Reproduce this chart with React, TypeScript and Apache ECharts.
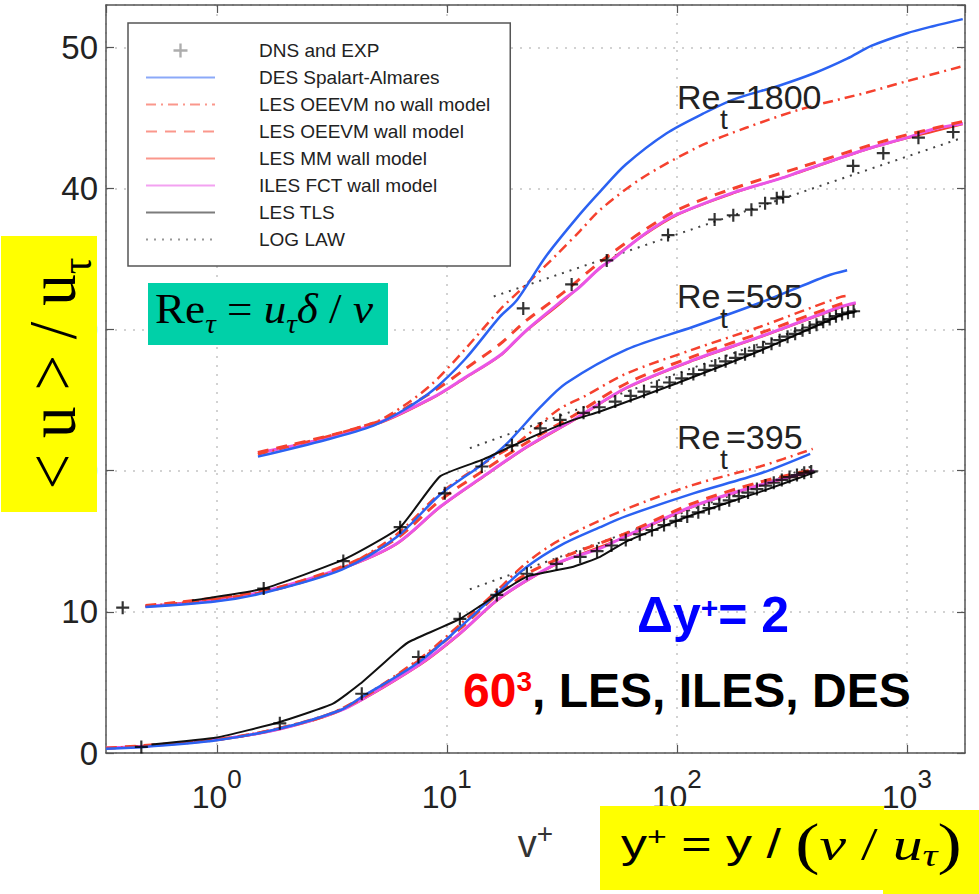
import React, { useEffect, useRef } from 'react';
import * as echarts from 'echarts';

const FONT = '"Liberation Sans", Arial, Helvetica, sans-serif';
const SERIF = '"Liberation Serif", "Times New Roman", Times, serif';

// ---- legend names ----
const NAMES = [
  'DNS and EXP',
  'DES Spalart-Almares',
  'LES OEEVM no wall model',
  'LES OEEVM wall model',
  'LES MM wall model',
  'ILES FCT wall model',
  'LES TLS',
  'LOG LAW',
];

// ---- x-axis extent (y+) and y-axis extent (<u>/u_tau) ----
const X_MIN = 0.33;
const X_MAX = 1790;
const Y_MIN = 0;
const Y_MAX = 53;
const Y_STEP = 10;

// ---- Re_tau = 1800 (shifted +20) ----
const dns1800 = [[21.5, 31.5], [34.9, 33.2], [49.6, 34.9], [91.6, 36.7], [146, 37.8], [176, 38.1], [211, 38.5], [242, 38.95], [272, 39.3], [290, 39.4], [584, 41.6], [790, 42.5], [1123, 43.6], [1590, 44.0]];
const des1800 = [[1.51, 21.0], [3, 22.2], [4.8, 23.2], [6.5, 24.3], [8.7, 25.7], [12, 27.9], [17, 30.9], [20.2, 32.1], [27, 35.2], [38, 38.2], [46.5, 39.8], [60, 41.7], [90, 43.9], [130, 45.3], [176, 46.3], [280, 47.3], [400, 48.2], [550, 49.2], [700, 50.1], [1000, 51.0], [1300, 51.5], [1750, 52.0]];
const noWall1800 = [[1.51, 21.15], [4.8, 23.4], [6.5, 24.6], [8.7, 26.2], [12, 28.6], [17, 31.4], [21.5, 33.0], [30, 35.3], [38, 37.0], [46.5, 38.5], [70, 40.7], [126, 43.0], [200, 44.3], [344, 45.6], [670, 46.8], [1000, 47.6], [1737, 48.65]];
const wall1800 = [[1.51, 21.3], [4.96, 23.45], [8.7, 25.6], [12, 27.2], [17.1, 29.0], [22, 30.6], [32, 32.6], [46.5, 34.8], [70, 36.9], [103, 38.55], [176, 40.0], [344, 41.5], [670, 43.0], [1000, 43.8], [1750, 44.75]];
const mm1800 = [[1.51, 21.2], [4.96, 23.3], [8.7, 25.15], [12, 26.55], [17.1, 28.15], [22, 29.85], [32, 32.0], [46.5, 34.35], [70, 36.55], [103, 38.2], [176, 39.65], [344, 41.15], [670, 42.75], [1000, 43.55], [1750, 44.55]];
const iles1800 = [[1.51, 21.25], [3, 22.3], [4.96, 23.35], [8.7, 25.2], [12, 26.6], [17.1, 28.2], [22, 29.9], [32, 32.1], [38, 33.05], [46.5, 34.4], [52.8, 35.0], [70, 36.6], [90.5, 37.8], [103, 38.25], [176, 39.7], [281, 40.7], [344, 41.2], [670, 42.8], [1000, 43.6], [1300, 44.2], [1750, 44.6]];
const logLaw1800 = [[16, 32.35], [1750, 43.6]];

// ---- Re_tau = 595 (shifted +10) ----
const dns595 = [[0.39, 10.3], [1.6, 11.65], [3.55, 13.6], [6.27, 16.0], [9.8, 18.4], [14.2, 20.3], [19.2, 21.8], [25.5, 23.0], [31.1, 23.6], [39.3, 24.1], [46, 24.5], [54, 24.9], [63, 25.3], [72, 25.6], [82, 25.95], [93, 26.25], [105, 26.55], [118, 26.85], [132, 27.15], [147, 27.45], [163, 27.75], [180, 28.0], [198, 28.25], [217, 28.5], [237, 28.75], [258, 29.0], [280, 29.25], [303, 29.5], [327, 29.7], [352, 29.95], [378, 30.15], [405, 30.35], [433, 30.55], [462, 30.75], [492, 30.95], [523, 31.1], [555, 31.2], [587, 31.3]];
const des595 = [[0.49, 10.35], [1, 10.75], [1.6, 11.35], [3.5, 13.0], [6.06, 15.3], [9.35, 18.3], [14.4, 20.5], [18.2, 21.9], [25.5, 24.5], [33, 26.2], [60.6, 28.6], [118, 30.2], [230, 31.9], [449, 33.8], [550, 34.2]];
const noWall595 = [[0.49, 10.4], [1.6, 11.4], [3.5, 13.1], [6.06, 15.5], [9.35, 18.4], [14.4, 20.5], [20, 21.9], [25.5, 23.3], [31, 24.4], [40, 25.3], [60.6, 26.9], [118, 28.6], [230, 30.2], [512, 32.3], [560, 32.4]];
const wall595 = [[0.49, 10.45], [1.6, 11.5], [3.5, 13.2], [6.06, 15.2], [9.35, 17.9], [14.4, 20.0], [22.3, 22.0], [35.5, 23.9], [60.6, 26.2], [118, 28.1], [230, 29.75], [512, 31.8], [560, 31.95]];
const mm595 = [[0.49, 10.38], [1.6, 11.4], [3.5, 13.05], [6.06, 14.8], [9.35, 17.4], [14.4, 19.55], [22.3, 21.65], [35.5, 23.55], [60.6, 25.85], [118, 27.8], [230, 29.45], [512, 31.55], [600, 31.85]];
const iles595 = [[0.49, 10.4], [1, 10.8], [1.6, 11.45], [3.5, 13.1], [6.06, 14.85], [9.35, 17.45], [14.4, 19.6], [22.3, 21.7], [35.5, 23.6], [60.6, 25.9], [118, 27.85], [230, 29.5], [512, 31.6], [600, 31.9]];
const tls595 = [[0.78, 10.8], [1.6, 11.65], [3.55, 13.7], [6.27, 16.0], [9.35, 19.6], [14.4, 20.8], [19.5, 21.8], [25.5, 22.65], [35.5, 23.6], [46.4, 24.2], [100, 26.2], [230, 28.5], [512, 31.0], [605, 31.3]];
const logLaw595 = [[12.6, 21.6], [600, 31.45]];

// ---- Re_tau = 395 (no shift) ----
const dns395 = [[0.47, 0.43], [1.88, 2.1], [4.27, 4.2], [7.53, 6.8], [11.4, 9.5], [16.5, 11.2], [22.3, 12.7], [30, 13.4], [38, 13.9], [45, 14.3], [52, 14.7], [60, 15.1], [69, 15.5], [78, 15.8], [88, 16.15], [99, 16.45], [111, 16.75], [124, 17.05], [138, 17.35], [153, 17.65], [169, 17.9], [186, 18.2], [204, 18.45], [223, 18.7], [243, 18.95], [264, 19.15], [286, 19.35], [309, 19.55], [333, 19.7], [358, 19.85], [384, 19.95]];
const des395 = [[0.33, 0.3], [0.5, 0.45], [1, 0.9], [1.88, 1.73], [3.44, 3.03], [4.2, 3.9], [7.5, 6.4], [11.4, 8.9], [16.5, 11.3], [22.3, 13.2], [31.1, 14.7], [46.4, 16.0], [60.6, 16.8], [118, 18.4], [230, 19.8], [380, 21.2]];
const noWall395 = [[0.33, 0.32], [1, 0.92], [1.88, 1.78], [3.44, 3.1], [7.5, 6.6], [11.4, 9.1], [16.5, 11.5], [22.3, 13.5], [31.1, 15.1], [60.6, 17.3], [118, 19.0], [230, 20.3], [390, 21.55]];
const wall395 = [[0.33, 0.35], [1, 0.95], [1.88, 1.75], [3.44, 3.05], [7.5, 6.5], [11.4, 8.8], [16.5, 11.2], [22.3, 12.7], [31.1, 13.8], [60.6, 15.6], [118, 17.7], [230, 19.2], [395, 20.1]];
const mm395 = [[0.33, 0.33], [1, 0.93], [1.88, 1.68], [3.44, 2.98], [7.66, 6.25], [11.4, 8.42], [16.5, 10.78], [22.3, 12.2], [31.1, 13.5], [60.6, 15.35], [118, 17.45], [230, 18.95], [395, 19.95]];
const iles395 = [[0.33, 0.35], [0.5, 0.5], [1, 0.95], [1.88, 1.7], [3.44, 3.0], [4.5, 4.0], [7.66, 6.3], [11.4, 8.47], [16.5, 10.83], [22.3, 12.25], [31.1, 13.55], [46.4, 14.5], [60.6, 15.4], [118, 17.5], [230, 19.0], [395, 20.0]];
const tls395 = [[0.52, 0.6], [1, 1.1], [1.88, 2.2], [3.2, 3.5], [4.2, 4.9], [6.27, 7.4], [6.9, 7.9], [11.4, 9.5], [16.5, 11.2], [22.3, 12.5], [35.5, 13.2], [46.4, 13.9], [60.6, 15.0], [118, 16.9], [230, 18.5], [400, 19.9]];
const logLaw395 = [[12.6, 11.6], [400, 20.4]];

// ---- annotation texts ----
const reLabels = [
  { value: '=1800', cy: 97 },
  { value: '=595', cy: 296 },
  { value: '=395', cy: 437 },
];

const BLUE = '#2b62f2';
const RED = '#f5412e';
const MAGENTA = '#ea55e6';
const BLACK = '#111111';

const styles: Record<string, any> = {
  'DES Spalart-Almares': { color: BLUE, width: 2.5, type: 'solid' },
  'LES OEEVM no wall model': { color: RED, width: 2.5, type: [10, 5, 2, 5] },
  'LES OEEVM wall model': { color: RED, width: 3, type: [11, 8] },
  'LES MM wall model': { color: RED, width: 2, type: 'solid' },
  'ILES FCT wall model': { color: MAGENTA, width: 3, type: 'solid' },
  'LES TLS': { color: BLACK, width: 2, type: 'solid' },
  'LOG LAW': { color: '#444444', width: 2, type: [2, 6] },
};

const PLUS = 'path://M5,0H7V5H12V7H7V12H5V7H0V5H5Z';

function lineSeries(name: string, data: number[][], smooth = 0.3) {
  const ls = styles[name];
  return {
    name,
    type: 'line',
    data,
    symbol: 'none',
    showSymbol: false,
    smooth,
    color: ls.color,
    lineStyle: { ...ls },
    silent: true,
  };
}

function dnsSeries(data: number[][]) {
  return {
    name: 'DNS and EXP',
    type: 'scatter',
    data,
    symbol: PLUS,
    symbolSize: 13,
    itemStyle: { color: '#000' },
    silent: true,
    z: 5,
  };
}

const series = [
  lineSeries('LOG LAW', logLaw1800, 0),
  lineSeries('LOG LAW', logLaw595, 0),
  lineSeries('LOG LAW', logLaw395, 0),
  lineSeries('LES MM wall model', mm1800),
  lineSeries('LES MM wall model', mm595),
  lineSeries('LES MM wall model', mm395),
  lineSeries('ILES FCT wall model', iles1800),
  lineSeries('ILES FCT wall model', iles595),
  lineSeries('ILES FCT wall model', iles395),
  lineSeries('LES OEEVM wall model', wall1800),
  lineSeries('LES OEEVM wall model', wall595),
  lineSeries('LES OEEVM wall model', wall395),
  lineSeries('LES OEEVM no wall model', noWall1800),
  lineSeries('LES OEEVM no wall model', noWall595),
  lineSeries('LES OEEVM no wall model', noWall395),
  lineSeries('DES Spalart-Almares', des1800),
  lineSeries('DES Spalart-Almares', des595),
  lineSeries('DES Spalart-Almares', des395),
  lineSeries('LES TLS', tls595, 0.15),
  lineSeries('LES TLS', tls395, 0.15),
  dnsSeries(dns1800),
  dnsSeries(dns595),
  dnsSeries(dns395),
];

const axisLineStyle = { color: '#555', width: 1.5 };

function buildGraphic() {
  const g: any[] = [];
  // yellow box (y-axis title)
  g.push({ type: 'rect', z: 100, shape: { x: 1, y: 236, width: 96, height: 276 }, style: { fill: '#FFFF00' } });
  g.push({
    type: 'text', z: 101, x: 52.5, y: 373.5, rotation: Math.PI / 2, scaleX: 1.09, scaleY: 1.15,
    style: {
      text: '{a|< u > / u}{s|τ}', textAlign: 'center', textVerticalAlign: 'middle', fill: '#000',
      rich: {
        a: { fontFamily: SERIF, fontSize: 58, fill: '#000' },
        s: { fontFamily: SERIF, fontSize: 38, fill: '#000', padding: [41, 0, 0, 0] },
      },
    },
  });
  // green box
  g.push({ type: 'rect', z: 100, shape: { x: 148, y: 283, width: 240, height: 62 }, style: { fill: '#00D0A8' } });
  g.push({
    type: 'text', z: 101, x: 155, y: 309, scaleX: 1.05,
    style: {
      text: '{a|Re}{s|τ}{a| = }{i|u}{s|τ}{i|δ}{a| / }{i|ν}', textAlign: 'left', textVerticalAlign: 'middle', fill: '#000',
      rich: {
        a: { fontFamily: SERIF, fontSize: 43, fill: '#000' },
        i: { fontFamily: SERIF, fontSize: 43, fontStyle: 'italic', fill: '#000' },
        s: { fontFamily: SERIF, fontSize: 28, fontStyle: 'italic', fill: '#000', padding: [28, 0, 0, 0] },
      },
    },
  });
  // Delta y+ = 2
  g.push({
    type: 'text', z: 101, x: 637, y: 615,
    style: {
      text: '{a|Δy}{s|+}{a|= 2}', textAlign: 'left', textVerticalAlign: 'middle', fill: '#0000ff',
      rich: {
        a: { fontFamily: FONT, fontSize: 50, fontWeight: 'bold', fill: '#0000ff' },
        s: { fontFamily: FONT, fontSize: 30, fontWeight: 'bold', fill: '#0000ff', padding: [0, 0, 16, 0] },
      },
    },
  });
  // 60^3, LES, ILES, DES
  g.push({
    type: 'text', z: 101, x: 463, y: 690,
    style: {
      text: '{r|60}{rs|3}{k|, LES, ILES, DES}', textAlign: 'left', textVerticalAlign: 'middle', fill: '#000',
      rich: {
        r: { fontFamily: FONT, fontSize: 48, fontWeight: 'bold', fill: '#ff0000' },
        rs: { fontFamily: FONT, fontSize: 28, fontWeight: 'bold', fill: '#ff0000', padding: [0, 0, 18, 0] },
        k: { fontFamily: FONT, fontSize: 48, fontWeight: 'bold', fill: '#000' },
      },
    },
  });
  // bottom yellow box (x-axis definition)
  g.push({ type: 'rect', z: 100, shape: { x: 600, y: 806, width: 284, height: 84 }, style: { fill: '#FFFF00' } });
  g.push({ type: 'rect', z: 100, shape: { x: 883, y: 810, width: 96, height: 84 }, style: { fill: '#FFFF00' } });
  g.push({
    type: 'text', z: 101, x: 621, y: 844, scaleX: 1.3,
    style: {
      text: '{a|y}{as|+}{a| = y / }{p|(}{g|ν}{t| / }{g|u}{gs|τ}{p|)}', textAlign: 'left', textVerticalAlign: 'middle', fill: '#000',
      rich: {
        a: { fontFamily: FONT, fontSize: 40, fill: '#000' },
        as: { fontFamily: FONT, fontSize: 26, fill: '#000', padding: [0, 0, 16, 0] },
        p: { fontFamily: SERIF, fontSize: 56, fill: '#000' },
        g: { fontFamily: SERIF, fontSize: 46, fontStyle: 'italic', fill: '#000' },
        t: { fontFamily: SERIF, fontSize: 46, fill: '#000' },
        gs: { fontFamily: SERIF, fontSize: 32, fontStyle: 'italic', fill: '#000', padding: [22, 0, 0, 0] },
      },
    },
  });
  // Re_t labels
  reLabels.forEach((r) => {
    g.push({ type: 'text', z: 101, x: 677, y: r.cy, style: { text: 'Re', fontFamily: FONT, fontSize: 34, fill: '#222', textAlign: 'left', textVerticalAlign: 'middle' } });
    g.push({ type: 'text', z: 101, x: 720, y: r.cy + 22, style: { text: 't', fontFamily: FONT, fontSize: 28, fill: '#222', textAlign: 'left', textVerticalAlign: 'middle' } });
    g.push({ type: 'text', z: 101, x: 726, y: r.cy, style: { text: r.value, fontFamily: FONT, fontSize: 34, fill: '#222', textAlign: 'left', textVerticalAlign: 'middle' } });
  });
  return g;
}

const option: any = {
  animation: false,
  backgroundColor: '#ffffff',
  grid: { left: 106, right: 14, top: 5, bottom: 141, containLabel: false },
  legend: {
    show: true,
    orient: 'vertical',
    left: 128,
    top: 23,
    backgroundColor: '#ffffff',
    borderColor: '#555',
    borderWidth: 1.5,
    borderRadius: 0,
    padding: [18, 20, 17, 17],
    itemWidth: 69,
    itemHeight: 14,
    itemGap: 8,
    lineStyle: { opacity: 0.55 },
    textStyle: { fontSize: 19, fontFamily: FONT, color: '#222', lineHeight: 19, padding: [0, 0, 0, 39] },
    data: NAMES.map((n) =>
      n === 'DNS and EXP'
        ? { name: n, icon: PLUS, itemStyle: { color: '#999' } }
        : { name: n, itemStyle: { opacity: 0 } }
    ),
    z: 10,
  },
  xAxis: [
    {
      type: 'log', logBase: 10, min: X_MIN, max: X_MAX, position: 'bottom',
      axisLine: { show: true, onZero: false, lineStyle: axisLineStyle },
      axisTick: { show: true, inside: true, length: 8, lineStyle: { color: '#555', width: 1.2 } },
      minorTick: { show: false },
      splitLine: { show: true, lineStyle: { type: [2, 7], color: '#c4c4c4', width: 1.5 } },
      axisLabel: {
        margin: 13,
        showMinLabel: false,
        showMaxLabel: false,
        formatter: (v: number) => `{b|10}{s|${Math.round(Math.log10(v))}}`,
        rich: {
          b: { fontSize: 32, fontFamily: FONT, color: '#222' },
          s: { fontSize: 26, fontFamily: FONT, color: '#222', padding: [0, 0, 36, 0] },
        },
      },
      name: '{v|v}{s|+}',
      nameLocation: 'middle',
      nameGap: 66,
      nameTextStyle: {
        fontSize: 38, fontFamily: FONT, color: '#333',
        rich: {
          v: { fontSize: 38, fontFamily: FONT, color: '#333' },
          s: { fontSize: 28, fontFamily: FONT, color: '#333', padding: [0, 0, 22, 0] },
        },
      },
    },
    {
      type: 'log', logBase: 10, min: X_MIN, max: X_MAX, position: 'top',
      axisLine: { show: true, onZero: false, lineStyle: axisLineStyle },
      axisTick: { show: true, inside: true, length: 8, lineStyle: { color: '#555', width: 1.2 } },
      axisLabel: { show: false },
      splitLine: { show: false },
    },
  ],
  yAxis: [
    {
      type: 'value', min: Y_MIN, max: Y_MAX, interval: Y_STEP, position: 'left',
      axisLine: { show: true, lineStyle: axisLineStyle },
      axisTick: { show: true, inside: true, length: 8, lineStyle: { color: '#555', width: 1.2 } },
      axisLabel: {
        margin: 8, fontSize: 33, fontFamily: FONT, color: '#222', showMaxLabel: false,
        formatter: (v: number) => (v % Y_STEP === 0 ? String(v) : ''),
      },
      splitLine: { show: true, lineStyle: { type: [2, 7], color: '#c4c4c4', width: 1.5 } },
    },
    {
      type: 'value', min: Y_MIN, max: Y_MAX, interval: Y_STEP, position: 'right',
      axisLine: { show: true, lineStyle: axisLineStyle },
      axisTick: { show: true, inside: true, length: 8, lineStyle: { color: '#555', width: 1.2 } },
      axisLabel: { show: false },
      splitLine: { show: false },
    },
  ],
  series,
  graphic: buildGraphic(),
};

export default function App() {
  const ref = useRef<HTMLDivElement>(null);
  useEffect(() => {
    if (!ref.current) return;
    const chart = echarts.init(ref.current, null, { renderer: 'svg' });
    chart.setOption(option);
    return () => chart.dispose();
  }, []);
  return (
    <div
      ref={ref}
      style={{ position: 'absolute', left: 0, top: 0, width: 979, height: 894, background: '#fff' }}
    />
  );
}
